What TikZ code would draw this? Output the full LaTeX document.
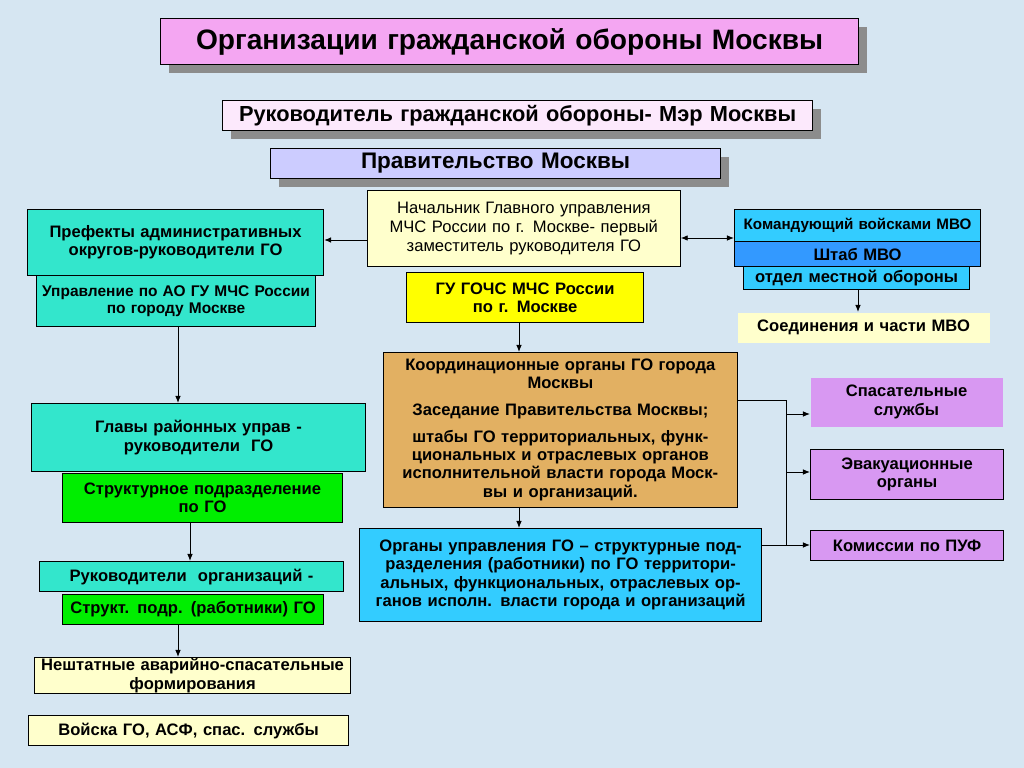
\documentclass[tikz,border=0pt]{standalone}
\usepackage{fontspec}
\setmainfont{Liberation Sans}
\usetikzlibrary{shadows}
\definecolor{bgblue}{HTML}{D6E6F2}
\definecolor{pinkt}{HTML}{F4A6F2}
\definecolor{lav}{HTML}{CCCCFF}
\definecolor{paley}{HTML}{FFFFCC}
\definecolor{turq}{HTML}{33E6CC}
\definecolor{yel}{HTML}{FFFF00}
\definecolor{skyb}{HTML}{33CCFF}
\definecolor{midb}{HTML}{3399FF}
\definecolor{tan}{HTML}{E2B062}
\definecolor{grn}{HTML}{00EE00}
\definecolor{viol}{HTML}{D898F2}
\tikzset{
  box/.style={draw=black,line width=0.8pt,inner sep=0.5pt,align=center,font=\bfseries\fontsize{11.8}{13}\selectfont},
  shad/.style={drop shadow={shadow xshift=6pt,shadow yshift=-6pt,fill=black!45,opacity=1}},
  arr/.style={-{Latex[length=5pt,width=4pt]},line width=0.7pt},
  ln/.style={line width=0.7pt}
}
\usetikzlibrary{arrows.meta}
% box given by its pixel corners: name, left, top, right, bottom, style, text
\newcommand{\pbox}[7]{\node[box,#6,anchor=north west,minimum width={(#4-#2)*0.025cm},minimum height={(#5-#3)*0.025cm},text width={(#4-#2)*0.025cm-2pt}] (#1) at (#2,#3) {#7};}
\begin{document}
\begin{tikzpicture}[x=0.025cm,y=-0.025cm]
\fill[bgblue] (0,0) rectangle (1024,768);
\useasboundingbox (0,0) rectangle (1024,768);
%Header boxes
\pbox{title}{160}{18}{858}{64}{fill=pinkt,shad,font=\bfseries\fontsize{20}{22}\selectfont}{Организации гражданской обороны Москвы}
\pbox{head}{222}{100}{812}{130}{fill=pinkt!25,shad,font=\bfseries\fontsize{15.5}{17}\selectfont}{Руководитель гражданской обороны- Мэр Москвы}
\pbox{gov}{270}{148}{720}{178}{fill=lav,shad,font=\bfseries\fontsize{16}{18}\selectfont}{Правительство Москвы}
%Middle column
\pbox{chief}{367}{190}{680}{266}{fill=paley,line width=0.5pt,font=\fontsize{11.8}{13.5}\selectfont}{Начальник Главного управления МЧС России по г. Москве- первый заместитель руководителя ГО}
\pbox{gochs}{406}{272}{643}{322}{fill=yel}{ГУ ГОЧС МЧС России\\по г. Москве}
\pbox{coord}{383}{352}{737}{507}{fill=tan,line width=0.5pt}{Координационные органы ГО города\\Москвы\\[6pt]Заседание Правительства Москвы;\\[6pt]штабы ГО территориальных, функ-\\циональных и отраслевых органов\\исполнительной власти города Моск-\\вы и организаций.}
\pbox{mgmt}{359}{528}{761}{621}{fill=skyb}{Органы управления ГО -- структурные под-\\разделения (работники) по ГО территори-\\альных, функциональных, отраслевых ор-\\ганов исполн. власти города и организаций}
%Left column
\pbox{pref}{27}{209}{323}{275}{fill=turq}{Префекты административных\\округов-руководители ГО}
\pbox{ao}{36}{275}{315}{326}{fill=turq,font=\bfseries\fontsize{11}{12.5}\selectfont}{Управление по АО ГУ МЧС России\\по городу Москве}
\pbox{heads}{31}{403}{365}{471}{fill=turq}{Главы районных управ -\\руководители\ \ ГО}
\pbox{subdiv}{62}{473}{342}{522}{fill=grn}{Структурное подразделение\\по ГО}
\pbox{orgs}{39}{561}{343}{591}{fill=turq}{Руководители\ \ организаций -}
\pbox{staff}{62}{594}{323}{624}{fill=grn}{Структ. подр. (работники) ГО}
\pbox{units}{34}{657}{350}{693}{fill=paley}{Нештатные аварийно-спасательные\\формирования}
\pbox{troops}{28}{715}{348}{745}{fill=paley}{Войска ГО, АСФ, спас. службы}
%Right column
\pbox{cmd}{734}{209}{980}{241}{fill=skyb,font=\bfseries\fontsize{10.8}{12}\selectfont}{Командующий войсками МВО}
\pbox{hq}{734}{241}{980}{266}{fill=midb}{Штаб МВО}
\pbox{dept}{743}{266}{969}{289}{fill=skyb}{отдел местной обороны}
\pbox{mvo}{737}{312}{989}{342}{fill=paley,draw=none}{Соединения и части МВО}
\pbox{rescue}{810}{377}{1002}{426}{fill=viol,draw=none}{Спасательные\\службы}
\pbox{evac}{810}{449}{1003}{499}{fill=viol}{Эвакуационные\\органы}
\pbox{comm}{810}{530}{1003}{560}{fill=viol}{Комиссии по ПУФ}
%Connectors
\draw[arr] (chief.west |- 0,240) -- (pref.east |- 0,240);
\draw[arr,{Latex[length=5pt,width=4pt]}-{Latex[length=5pt,width=4pt]}] (chief.east |- 0,238) -- (cmd.west |- 0,238);
\draw[arr] (dept.south -| 858,0) -- (mvo.north -| 858,0);
\draw[arr] (ao.south -| 178,0) -- (heads.north -| 178,0);
\draw[arr] (gochs.south -| 519,0) -- (coord.north -| 519,0);
\draw[arr] (coord.south -| 519,0) -- (mgmt.north -| 519,0);
\draw[arr] (subdiv.south -| 190,0) -- (orgs.north -| 190,0);
\draw[arr] (staff.south -| 178,0) -- (units.north -| 178,0);
\coordinate (bus) at (786,400);
\draw[ln] (coord.east |- bus) -- (bus) -- (786,545);
\draw[ln] (mgmt.east |- 0,545) -- (786,545);
\draw[arr] (786,414) -- (rescue.west |- 0,414);
\draw[arr] (786,472) -- (evac.west |- 0,472);
\draw[arr] (786,545) -- (comm.west |- 0,545);
\end{tikzpicture}
\end{document}
